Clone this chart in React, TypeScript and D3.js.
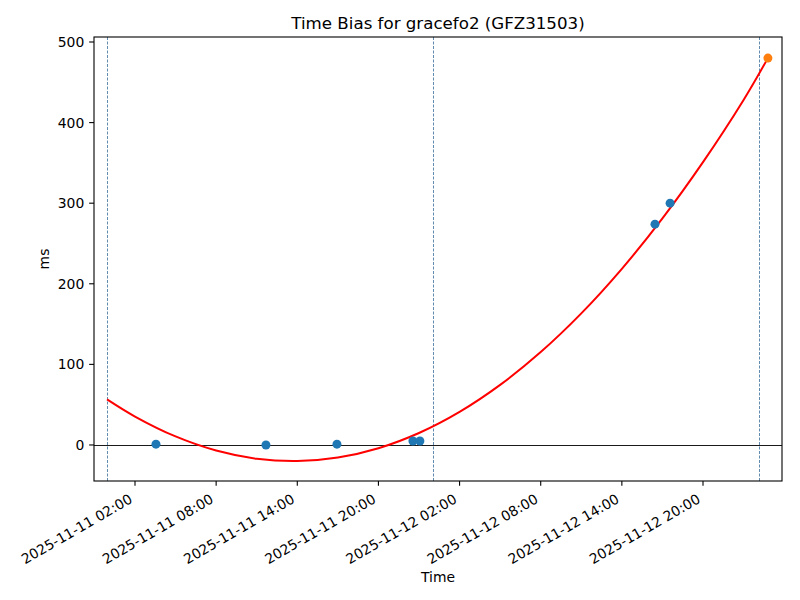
import React from "react";
import * as d3 from "d3";

const pointTimes = [
  "2025-11-11T03:33:00",
  "2025-11-11T11:41:00",
  "2025-11-11T16:56:00",
  "2025-11-11T22:33:00",
  "2025-11-11T23:04:00",
  "2025-11-12T16:27:00",
  "2025-11-12T17:34:00",
];
const pointValues = [1, 0, 1, 5, 5, 274, 300];

const predTime = "2025-11-13T00:48:00";
const predValue = 480;

const fitTimes = [
  "2025-11-10T23:56:00",
  "2025-11-11T02:00:00",
  "2025-11-11T05:00:00",
  "2025-11-11T08:00:00",
  "2025-11-11T11:00:00",
  "2025-11-11T14:00:00",
  "2025-11-11T17:00:00",
  "2025-11-11T20:00:00",
  "2025-11-11T23:00:00",
  "2025-11-12T02:00:00",
  "2025-11-12T05:00:00",
  "2025-11-12T08:00:00",
  "2025-11-12T11:00:00",
  "2025-11-12T14:00:00",
  "2025-11-12T17:00:00",
  "2025-11-12T20:00:00",
  "2025-11-12T23:00:00",
  "2025-11-13T00:48:00",
];
const fitValues = [
  56.6, 35.3, 10.6, -6.9, -17.1, -20, -15.6, -4.0, 14.9, 41.1, 74.6, 115.3,
  163.3, 218.6, 281.1, 350.9, 428, 480,
];

const boundaryTimes = [
  "2025-11-10T23:56:00",
  "2025-11-12T00:02:00",
  "2025-11-13T00:08:00",
];

const xTickTimes = [
  "2025-11-11T02:00:00",
  "2025-11-11T08:00:00",
  "2025-11-11T14:00:00",
  "2025-11-11T20:00:00",
  "2025-11-12T02:00:00",
  "2025-11-12T08:00:00",
  "2025-11-12T14:00:00",
  "2025-11-12T20:00:00",
];
const yTicks = [0, 100, 200, 300, 400, 500];

const W = 800;
const H = 600;
const L = 94;
const R = 782;
const T = 37;
const B = 481;
const FONT = "DejaVu Sans, sans-serif";

export default function App() {
  const p = (s: string) => new Date(s);
  const pxPerHour = (703 - 135) / 42;
  const t0 = p("2025-11-11T02:00:00").getTime();
  const domStart = new Date(t0 - ((135 - L) / pxPerHour) * 3600e3);
  const domEnd = new Date(t0 + ((R - 135) / pxPerHour) * 3600e3);
  const x = d3.scaleTime().domain([domStart, domEnd]).range([L, R]);
  const y = d3.scaleLinear().domain([-44.7, 506.2]).range([B, T]);
  const fmt = d3.timeFormat("%Y-%m-%d %H:%M");

  const line = d3
    .line<[Date, number]>()
    .x((d) => x(d[0]))
    .y((d) => y(d[1]))
    .curve(d3.curveCatmullRom);
  const fitData: [Date, number][] = fitTimes.map((t, i) => [p(t), fitValues[i]]);

  const tickLen = 4.86;
  const h = 16.2;

  return (
    <svg
      width={W}
      height={H}
      style={{ position: "absolute", left: 0, top: 0, background: "#fff" }}
      fontFamily={FONT}
    >
      <rect x={0} y={0} width={W} height={H} fill="#fff" />
      <defs>
        <clipPath id="plotclip">
          <rect x={L} y={T} width={R - L} height={B - T} />
        </clipPath>
      </defs>
      <g clipPath="url(#plotclip)">
        {boundaryTimes.map((t, i) => (
          <line
            key={i}
            x1={Math.round(x(p(t))) + 0.5}
            x2={Math.round(x(p(t))) + 0.5}
            y1={T}
            y2={B}
            stroke="#3a6f9a"
            strokeWidth={0.8}
            strokeDasharray="3,1.5"
          />
        ))}
        <line x1={L} x2={R} y1={Math.round(y(0)) + 0.5} y2={Math.round(y(0)) + 0.5} stroke="#000" strokeWidth={0.9} />
        <path d={line(fitData) || ""} fill="none" stroke="#ff0000" strokeWidth={2} />
        {pointTimes.map((t, i) => (
          <circle key={i} cx={x(p(t))} cy={y(pointValues[i])} r={4.5} fill="#1f77b4" />
        ))}
        <circle cx={x(p(predTime))} cy={y(predValue)} r={4.5} fill="#ff7f0e" />
      </g>
      <rect x={L} y={T} width={R - L} height={B - T} fill="none" stroke="#000" strokeWidth={1.1} />
      {yTicks.map((v) => (
        <g key={v}>
          <line x1={L - tickLen} x2={L} y1={y(v)} y2={y(v)} stroke="#000" strokeWidth={1.1} />
          <text
            x={L - tickLen - 4.86}
            y={y(v)}
            textAnchor="end"
            dominantBaseline="central"
            fontSize={13.9}
          >
            {v}
          </text>
        </g>
      ))}
      {xTickTimes.map((t) => {
        const xp = x(p(t));
        return (
          <g key={t}>
            <line x1={xp} x2={xp} y1={B} y2={B + tickLen} stroke="#000" strokeWidth={1.1} />
            <g transform={`translate(${xp},${B + tickLen + 4.86 + 0.866 * h}) rotate(-30)`}>
              <text x={0} y={-3.3} textAnchor="end" fontSize={13.9}>
                {fmt(p(t))}
              </text>
            </g>
          </g>
        );
      })}
      <text x={(L + R) / 2} y={28.5} textAnchor="middle" fontSize={16.67}>
        Time Bias for gracefo2 (GFZ31503)
      </text>
      <text x={(L + R) / 2} y={582} textAnchor="middle" fontSize={13.9}>
        Time
      </text>
      <text
        transform={`translate(49,${(T + B) / 2}) rotate(-90)`}
        textAnchor="middle"
        fontSize={13.9}
      >
        ms
      </text>
    </svg>
  );
}
